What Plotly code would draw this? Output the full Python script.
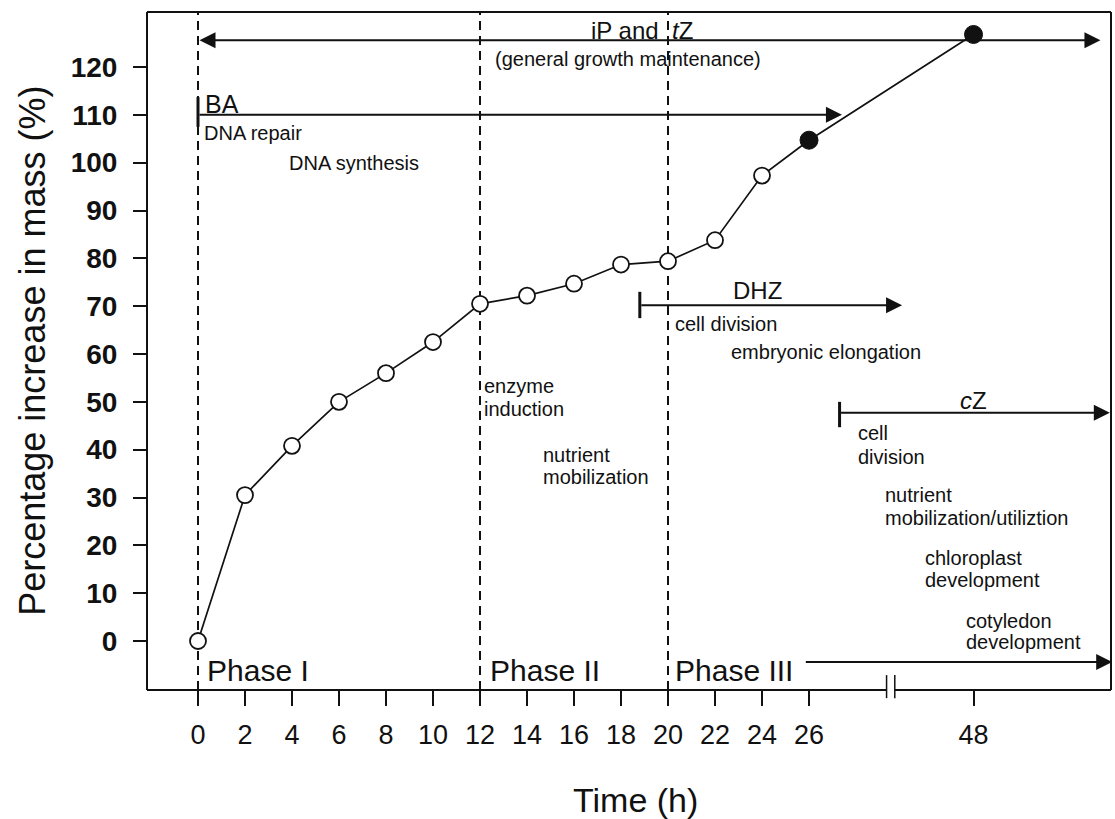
import plotly.graph_objects as go

# ---------------- data ----------------
time_h = [0, 2, 4, 6, 8, 10, 12, 14, 16, 18, 20, 22, 24, 26, 48]
mass_pct = [0, 30.5, 40.8, 50, 56, 62.5, 70.5, 72.2, 74.7, 78.7, 79.4, 83.8, 97.3, 104.7, 126.8]
filled = [False] * 13 + [True, True]
x_tick_labels = [str(t) for t in time_h]
y_tick_vals = list(range(0, 121, 10))
phase_bounds_h = [0, 12, 20]

# broken time axis: everything after 26 h is drawn compressed
BREAK_AFTER = 26
BREAK_POS = 33


def axis_pos(t):
    return t if t <= BREAK_AFTER else BREAK_POS


xpos = [axis_pos(t) for t in time_h]
X_RANGE = [-2.17, 38.85]
Y_RANGE = [-10.24, 131.5]
FONT = "Liberation Sans, Arial, sans-serif"
INK = "#111111"

fig = go.Figure()
fig.add_trace(go.Scatter(x=xpos, y=mass_pct, mode="lines",
                         line=dict(color=INK, width=1.7), hoverinfo="skip", showlegend=False))
fig.add_trace(go.Scatter(x=[p for p, f in zip(xpos, filled) if not f],
                         y=[v for v, f in zip(mass_pct, filled) if not f],
                         mode="markers", showlegend=False,
                         marker=dict(symbol="circle", size=16, color="white",
                                     line=dict(color=INK, width=1.8))))
fig.add_trace(go.Scatter(x=[p for p, f in zip(xpos, filled) if f],
                         y=[v for v, f in zip(mass_pct, filled) if f],
                         mode="markers", showlegend=False,
                         marker=dict(symbol="circle", size=18, color=INK,
                                     line=dict(color=INK, width=1))))

shapes = []
# phase boundary dashed lines
for b in phase_bounds_h:
    shapes.append(dict(type="line", xref="x", yref="paper", x0=b, x1=b, y0=0, y1=1,
                       line=dict(color=INK, width=2, dash="9px,6px"), layer="below"))

# frame (bottom side broken)
brk0, brk1 = 29.3, 29.65
frame_w = 2
shapes += [
    dict(type="line", xref="paper", yref="paper", x0=0, x1=1, y0=1, y1=1, line=dict(color=INK, width=frame_w)),
    dict(type="line", xref="paper", yref="paper", x0=0, x1=0, y0=0, y1=1, line=dict(color=INK, width=frame_w)),
    dict(type="line", xref="paper", yref="paper", x0=1, x1=1, y0=0, y1=1, line=dict(color=INK, width=frame_w)),
    dict(type="line", xref="x", yref="paper", x0=X_RANGE[0], x1=brk0, y0=0, y1=0, line=dict(color=INK, width=frame_w)),
    dict(type="line", xref="x", yref="paper", x0=brk1, x1=X_RANGE[1], y0=0, y1=0, line=dict(color=INK, width=frame_w)),
    dict(type="line", xref="x", yref="paper", x0=brk0, x1=brk0, y0=0.022, y1=-0.012, line=dict(color=INK, width=1.5)),
    dict(type="line", xref="x", yref="paper", x0=brk1, x1=brk1, y0=0.022, y1=-0.012, line=dict(color=INK, width=1.5)),
]

# start bars of the hormone arrows
bars = [(0, 107.5, 113.7), (18.8, 67.5, 73.0), (27.3, 44.7, 50.0)]
for bx, y0, y1 in bars:
    shapes.append(dict(type="line", xref="x", yref="y", x0=bx, x1=bx, y0=y0, y1=y1,
                       line=dict(color=INK, width=3)))

annotations = []

# arrows (start_t, end_t, level, both_ends)
arrows = [
    (0.0, 38.4, 125.6, True),    # iP and tZ
    (0.0, 27.4, 110.0, False),   # BA
    (18.8, 29.96, 70.2, False),  # DHZ
    (27.3, 38.8, 47.7, False),   # cZ
    (25.8, 38.9, -4.4, False),   # Phase III
]
for s, e, lvl, both in arrows:
    annotations.append(dict(x=e, y=lvl, ax=s, ay=lvl, xref="x", yref="y", axref="x", ayref="y",
                            text="", showarrow=True, arrowhead=2, arrowsize=1.6, arrowwidth=2,
                            arrowcolor=INK, arrowside="end+start" if both else "end"))

# labels: (text, t, value, size, xanchor)
labels = [
    ("iP and  <i>t</i>Z", 18.9, 127.6, 24, "center"),
    ("(general growth maintenance)", 18.3, 121.7, 20, "center"),
    ("BA", 0.2, 112.3, 25, "left"),
    ("DNA repair", 0.15, 106.2, 20, "left"),
    ("DNA synthesis", 3.8, 99.9, 20, "left"),
    ("DHZ", 23.8, 73.2, 24, "center"),
    ("cell division", 20.2, 66.3, 20, "left"),
    ("embryonic elongation", 22.6, 60.4, 20, "left"),
    ("enzyme", 12.1, 53.4, 20, "left"),
    ("induction", 12.1, 48.6, 20, "left"),
    ("nutrient", 14.6, 38.9, 20, "left"),
    ("mobilization", 14.6, 34.3, 20, "left"),
    ("<i>c</i>Z", 33.0, 50.2, 24, "center"),
    ("cell", 28.0, 43.5, 20, "left"),
    ("division", 28.0, 38.5, 20, "left"),
    ("nutrient", 29.15, 30.5, 20, "left"),
    ("mobilization/utiliztion", 29.15, 25.7, 20, "left"),
    ("chloroplast", 30.85, 17.3, 20, "left"),
    ("development", 30.85, 12.7, 20, "left"),
    ("cotyledon", 32.6, 4.2, 20, "left"),
    ("development", 32.6, -0.3, 20, "left"),
    ("Phase I", 0.3, -6.1, 30, "left"),
    ("Phase II", 12.35, -6.1, 30, "left"),
    ("Phase III", 20.2, -6.1, 30, "left"),
]
for txt, t, v, sz, xa in labels:
    annotations.append(dict(x=t, y=v, xref="x", yref="y", text=txt, showarrow=False,
                            xanchor=xa, yanchor="middle", font=dict(family=FONT, size=sz, color=INK)))

# axis titles
annotations.append(dict(x=-0.1195, y=0.5, xref="paper", yref="paper", text="Percentage increase in mass (%)",
                        textangle=-90, showarrow=False, xanchor="center", yanchor="middle",
                        font=dict(family=FONT, size=36, color=INK)))
annotations.append(dict(x=0.5067, y=-0.162, xref="paper", yref="paper", text="Time (h)",
                        showarrow=False, xanchor="center", yanchor="middle",
                        font=dict(family=FONT, size=34, color=INK)))

fig.update_layout(
    width=1115, height=819,
    margin=dict(l=147, r=4, t=12, b=129),
    paper_bgcolor="white", plot_bgcolor="white",
    shapes=shapes, annotations=annotations, showlegend=False,
    font=dict(family=FONT, color=INK),
)
fig.update_xaxes(range=X_RANGE, tickmode="array", tickvals=xpos, ticktext=x_tick_labels,
                 ticks="outside", ticklen=15, tickwidth=1.5, tickcolor=INK,
                 showgrid=False, zeroline=False, showline=False,
                 tickfont=dict(family=FONT, size=27, color=INK), ticklabelstandoff=6)
fig.update_yaxes(range=Y_RANGE, tickmode="array", tickvals=y_tick_vals,
                 ticks="outside", ticklen=13, tickwidth=1.5, tickcolor=INK,
                 showgrid=False, zeroline=False, showline=False,
                 tickfont=dict(family=FONT, size=28, color=INK, weight="bold"), ticklabelstandoff=10)

fig.write_html("out.html")
